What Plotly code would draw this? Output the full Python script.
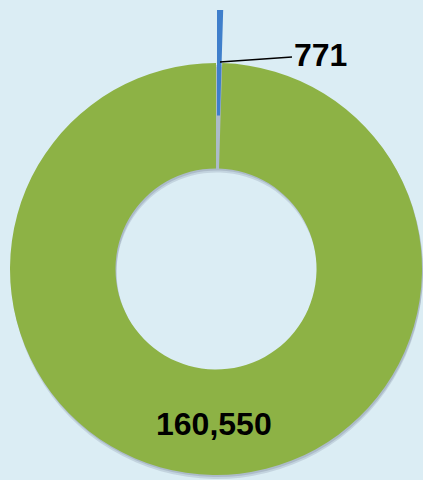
import plotly.graph_objects as go

# Data
labels = ["Blue", "Green"]
values = [771, 160550]

BG = "#DBEDF4"
GREEN = "#8DB245"
BLUE = "#3F7FCB"
FONT = "Liberation Sans Narrow, Arial Narrow, Liberation Sans, Arial, sans-serif"

W, H = 423, 480
cx, cy, r = 216, 269, 206
hole = 0.488
pull_px = 53


def dom(dx=0, dy=0):
    x0 = (cx + dx - r) / W
    x1 = (cx + dx + r) / W
    y0 = (H - (cy + dy + r)) / H
    y1 = (H - (cy + dy - r)) / H
    return dict(x=[max(0, x0), min(1, x1)], y=[max(0, y0), min(1, y1)])


fig = go.Figure()

# soft shadow layers
for off, op in [(4, 0.18), (2, 0.22)]:
    fig.add_trace(go.Pie(
        labels=labels, values=values, sort=False, direction="clockwise",
        rotation=0, hole=hole, domain=dom(1, off),
        marker=dict(colors=[f"rgba(90,100,125,{op})", f"rgba(90,100,125,{op})"],
                    line=dict(width=0)),
        textinfo="none", hoverinfo="skip", showlegend=False,
    ))

# main ring (green slice, blue slot left empty)
fig.add_trace(go.Pie(
    labels=labels, values=values, sort=False, direction="clockwise",
    rotation=0, hole=hole, domain=dom(0, 0),
    marker=dict(colors=["rgba(0,0,0,0)", GREEN], line=dict(width=0)),
    textinfo="none", hoverinfo="skip", showlegend=False,
))

# exploded blue slice
fig.add_trace(go.Pie(
    labels=labels, values=values, sort=False, direction="clockwise",
    rotation=0, hole=hole, domain=dom(1, -pull_px),
    marker=dict(colors=[BLUE, "rgba(0,0,0,0)"], line=dict(width=0)),
    textinfo="none", hoverinfo="skip", showlegend=False,
))

# value labels
fig.add_annotation(
    x=220 / W, y=(H - 62) / H, xref="paper", yref="paper",
    ax=100, ay=-7, axref="pixel", ayref="pixel",
    text=f"<b>{values[0]:,}</b>", showarrow=True, arrowhead=0,
    arrowwidth=1.6, arrowcolor="black",
    font=dict(family=FONT, size=32, color="black"),
)
fig.add_annotation(
    x=214 / W, y=(H - 424) / H, xref="paper", yref="paper",
    xanchor="center", yanchor="middle",
    text=f"<b>{values[1]:,}</b>", showarrow=False,
    font=dict(family=FONT, size=32, color="black"),
)

fig.update_layout(
    width=W, height=H, margin=dict(l=0, r=0, t=0, b=0),
    paper_bgcolor=BG, plot_bgcolor=BG, showlegend=False,
)

fig.write_html(
    "out.html",
    config={"displayModeBar": False},
    post_script="document.body.style.margin='0';document.body.style.overflow='hidden';",
)
